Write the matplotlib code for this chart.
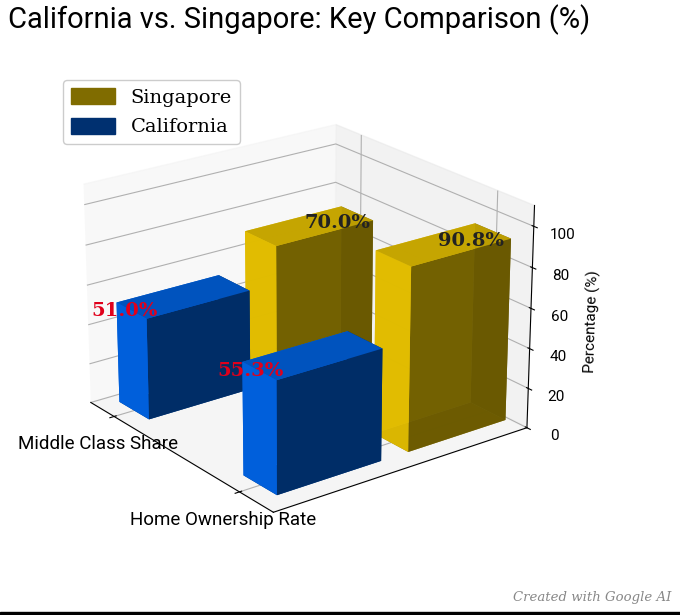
import matplotlib
matplotlib.use("Agg")
import matplotlib.pyplot as plt
from matplotlib.patches import Patch, Rectangle
import numpy as np

categories = ["Middle Class Share", "Home Ownership Rate"]
california = [51.0, 55.3]
singapore = [70.0, 90.8]
z_ticks = [0, 20, 40, 60, 80, 100]

SANS = "Roboto"
SERIF = "DejaVu Serif"

fig = plt.figure(figsize=(6.8, 6.15), dpi=100)
ax = fig.add_axes([0.0015, 0.0905, 0.879, 0.80], projection="3d")

x = np.arange(len(categories))
dx, dy = 0.25, 0.52
y_cal, y_sin = 0.0, 0.66
ax.bar3d(x - dx / 2, np.full(len(x), y_cal), np.zeros(len(x)), dx, dy, california,
         color="#006CF8", shade=True)
ax.bar3d(x - dx / 2, np.full(len(x), y_sin), np.zeros(len(x)), dx, dy, singapore,
         color="#FFD500", shade=True, alpha=0.92)

for xi, v in zip(x, california):
    ax.text(xi - dx / 2 + 0.03, y_cal + 0.02, v - 4, f"{v:.1f}%", color="#E0001B",
            fontsize=14, fontweight="bold", family=SERIF, ha="center", va="center",
            zorder=10)
for xi, v in zip(x, singapore):
    ax.text(xi - dx / 2, y_sin + dy - 0.02, v - 8, f"{v:.1f}%", color="#222222",
            fontsize=14, fontweight="bold", family=SERIF, ha="center", va="center",
            zorder=10)

ax.set_xlim(-0.2, 1.25)
ax.set_ylim(-0.1, 1.2)
ax.set_zlim(0, 110)
ax.set_xticks(x)
ax.set_xticklabels(categories, family=SANS, fontsize=13.5)
ax.set_yticks([])
ax.set_zticks(z_ticks)
ax.set_zticklabels([str(t) for t in z_ticks], family=SANS, fontsize=11)
ax.set_zlabel("Percentage (%)", family=SANS, fontsize=11)
ax.view_init(elev=22, azim=-37)

handles = [Patch(color="#806C00", label="Singapore"), Patch(color="#003070", label="California")]
fig.legend(handles=handles, loc="upper left", bbox_to_anchor=(0.078, 0.885),
           prop={"family": SERIF, "size": 14}, framealpha=1, edgecolor="#cccccc",
           handlelength=2.3, handleheight=0.9, labelspacing=0.55)

fig.text(0.012, 0.968, "California vs. Singapore: Key Comparison (%)", family=SANS,
         fontsize=21, ha="left", va="center")
fig.text(0.987, 0.029, "Created with Google AI", family=SERIF, style="italic",
         fontsize=9.5, color="#888888", ha="right", va="center")
fig.add_artist(Rectangle((0, 0), 1, 0.005, transform=fig.transFigure, color="black"))

fig.savefig("out.png", dpi=100)
